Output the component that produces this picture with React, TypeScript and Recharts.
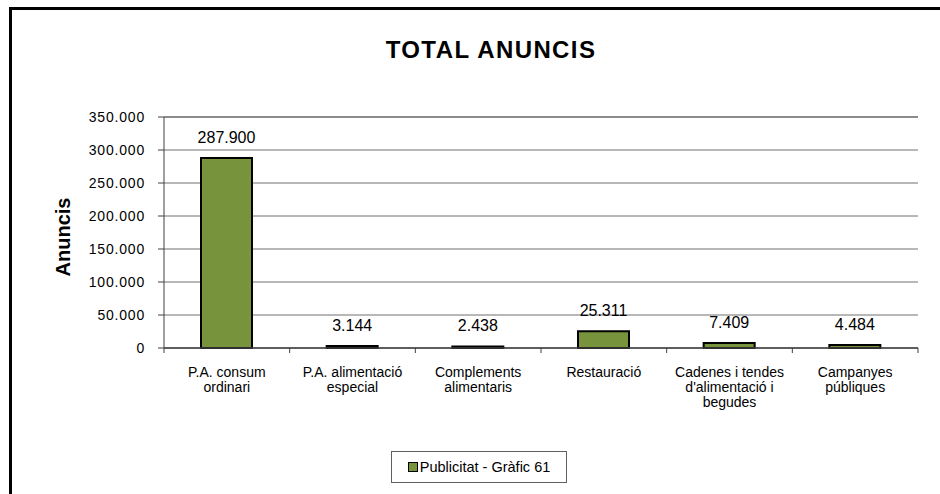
import React from 'react';
import { BarChart, Bar, XAxis, YAxis, CartesianGrid, LabelList, ReferenceLine } from 'recharts';

const categories = [
  'P.A. consum\nordinari',
  'P.A. alimentació\nespecial',
  'Complements\nalimentaris',
  'Restauració',
  "Cadenes i tendes\nd'alimentació i\nbegudes",
  'Campanyes\npúbliques',
];
const values = [287900, 3144, 2438, 25311, 7409, 4484];
const yTicks = [0, 50000, 100000, 150000, 200000, 250000, 300000, 350000];
const title = 'TOTAL ANUNCIS';
const yLabel = 'Anuncis';
const seriesName = 'Publicitat - Gràfic 61';

const data = categories.map((c, i) => ({ name: c, value: values[i] }));

const FONT = '"Liberation Sans", Arial, sans-serif';
const fmt = (v: any) => String(v).replace(/\B(?=(\d{3})+(?!\d))/g, '.');

const CHART_W = 940;
const MARGIN = { top: 117, right: 22, left: 84, bottom: 86 };
const Y_AXIS_W = 80;
const STEP = (CHART_W - MARGIN.left - MARGIN.right - Y_AXIS_W) / categories.length;

const XTick = (props: any) => {
  const { x, y, payload, index } = props;
  const lines = String(payload.value).split('\n');
  const isLast = index === categories.length - 1;
  return (
    <g>
      <line x1={x - STEP / 2} x2={x - STEP / 2} y1={y} y2={y + 5} stroke="#404040" />
      {isLast && <line x1={x + STEP / 2} x2={x + STEP / 2} y1={y} y2={y + 5} stroke="#404040" />}
      <text x={x} y={y} textAnchor="middle" fontSize={14} fontFamily={FONT} fill="#000">
        {lines.map((l, i) => (
          <tspan key={i} x={x} dy={i === 0 ? 29 : 15}>{l}</tspan>
        ))}
      </text>
    </g>
  );
};

export default function App() {
  return (
    <div style={{ position: 'absolute', left: 0, top: 0, width: 940, height: 494, overflow: 'hidden', background: '#fff' }}>
      <div style={{ position: 'absolute', left: 9, top: 7, width: 1000, height: 600, borderLeft: '3px solid #000', borderTop: '3px solid #000' }} />
      <div style={{ position: 'absolute', left: 291, width: 400, top: 36, textAlign: 'center', fontFamily: FONT, fontWeight: 'bold', fontSize: 24, letterSpacing: 1.4, color: '#000', lineHeight: '28px' }}>
        {title}
      </div>
      <div style={{ position: 'absolute', left: 0, top: 0 }}>
        <BarChart width={CHART_W} height={494} data={data} margin={MARGIN} barSize={51}>
          <CartesianGrid vertical={false} stroke="#707070" strokeWidth={1} />
          <XAxis
            dataKey="name"
            interval={0}
            tick={<XTick />}
            tickLine={false}
            tickSize={0}
            tickMargin={0}
            axisLine={{ stroke: '#404040', strokeWidth: 1.5 }}
            height={60}
          />
          <YAxis
            domain={[0, 350000]}
            ticks={yTicks}
            tickFormatter={fmt}
            width={Y_AXIS_W}
            tickSize={6}
            tickMargin={13}
            tickLine={{ stroke: '#404040' }}
            axisLine={{ stroke: '#404040' }}
            tick={{ fontSize: 14, fontFamily: FONT, fill: '#000', letterSpacing: 0.8 }}
            label={{
              value: yLabel,
              content: () => (
                <text x={70} y={237} transform="rotate(-90, 70, 237)" textAnchor="middle" fontSize={20} fontWeight="bold" fontFamily={FONT} fill="#000">
                  {yLabel}
                </text>
              ),
            }}
          />
          <YAxis
            yAxisId="r"
            orientation="right"
            domain={[0, 350000]}
            tick={false}
            tickLine={false}
            width={0}
            axisLine={{ stroke: '#8c8c8c', strokeWidth: 2 }}
          />
          <ReferenceLine y={350000} stroke="#8c8c8c" strokeWidth={2} />
          <Bar dataKey="value" name={seriesName} fill="#77933C" stroke="#000" strokeWidth={2} isAnimationActive={false}>
            <LabelList dataKey="value" position="top" offset={15} formatter={fmt} fontSize={16} fontFamily={FONT} fill="#000" />
          </Bar>
        </BarChart>
      </div>
      <div style={{ position: 'absolute', left: 391, top: 451, width: 176, height: 32, boxSizing: 'border-box', border: '1px solid #606060', display: 'flex', alignItems: 'center', justifyContent: 'center', fontFamily: FONT, fontSize: 14.5, color: '#000' }}>
        <span style={{ display: 'inline-block', width: 8, height: 8, background: '#77933C', border: '1.5px solid #000', marginRight: 2 }} />
        <span>{seriesName}</span>
      </div>
    </div>
  );
}
